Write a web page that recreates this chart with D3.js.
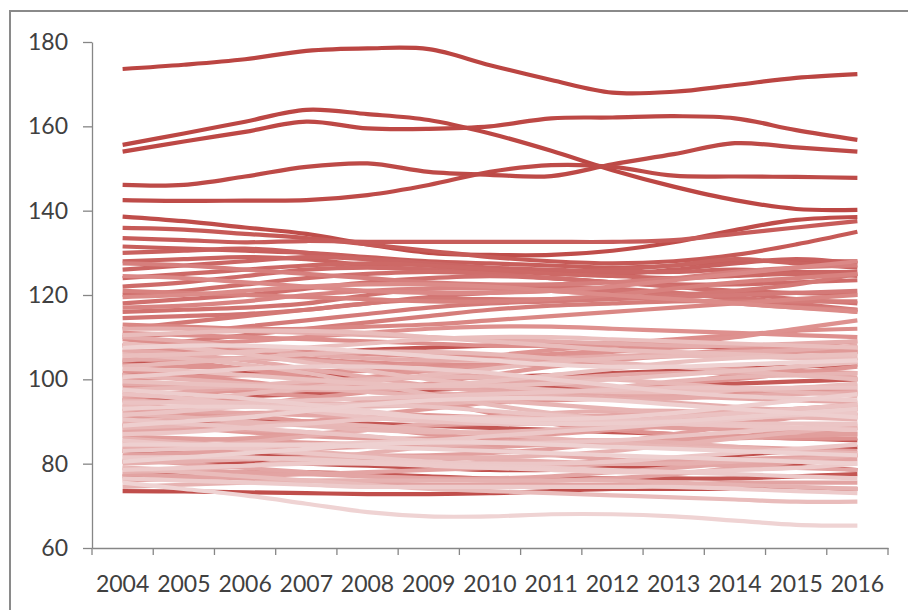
<!DOCTYPE html>
<html>
<head>
<meta charset="utf-8">
<script src="https://cdn.jsdelivr.net/npm/d3@7"></script>
<style>
  body { margin: 0; background: #fff; }
  svg { display: block; }
</style>
</head>
<body>
<script>
const years = [2004, 2005, 2006, 2007, 2008, 2009, 2010, 2011, 2012, 2013, 2014, 2015, 2016];
const yTicks = [60, 80, 100, 120, 140, 160, 180];

// the few separated lines at the top
const topSeries = [
  [173.6, 174.6, 175.9, 177.9, 178.5, 178.3, 174.5, 171, 168, 168.2, 169.8, 171.5, 172.4],
  [155.6, 158.3, 161.1, 163.9, 162.9, 161.5, 158.3, 154.2, 149.6, 145.7, 142.5, 140.4, 140.2],
  [154, 156.4, 158.7, 161.1, 159.5, 159.4, 160, 161.9, 162.1, 162.4, 161.9, 159.1, 156.8],
  [146.1, 146.1, 148.1, 150.4, 151.2, 149.2, 148.5, 148.2, 151, 153.4, 156, 155, 154],
  [142.5, 142.3, 142.4, 142.5, 143.7, 146.1, 149.2, 150.8, 150.4, 148.3, 148.1, 148, 147.8],
  [138.6, 137.5, 136, 134.5, 132, 130, 129.5, 129.5, 130.5, 132.5, 135.4, 137.8, 138.5]
];

// darker lines sitting low, under the pale ones
const darkLowSeries = [
  [73.5, 73.4, 73.2, 73, 72.8, 72.8, 73, 73.5, 74, 74, 74, 74, 74],
  [80.5, 80.5, 80.3, 80, 79.5, 79, 78.5, 78.5, 79, 79.5, 80, 79.5, 78.5],
  [83, 82.5, 82, 81.5, 81, 80.5, 80, 80, 80.5, 81, 82, 83, 84],
  [101, 101.5, 101.5, 101, 100.5, 100.5, 100.5, 101, 101.5, 102, 102.5, 103, 103.5],
  [104, 104.5, 105, 106, 107, 107.5, 108, 108.5, 108.5, 108, 107.5, 107, 106.5],
  [77, 77.5, 78, 78, 77.5, 77, 76.5, 76.5, 76.5, 76.5, 76.5, 77, 77.5],
  [89, 89.5, 90, 90, 89.5, 89, 88.5, 88, 87.5, 87, 86.5, 86, 85.5],
  [95, 95.5, 96, 96.5, 97, 97.5, 98, 98, 98, 98.5, 99, 99.5, 100]
];

// the band between roughly 110 and 140
const upperSeries = [
  [135.9, 135.5, 134.5, 133.5, 132, 130.5, 129, 128, 127.5, 128, 129.5, 132, 135],
  [133.5, 133, 132.5, 132.8, 132.6, 132.6, 132.6, 132.6, 132.6, 133, 134.5, 136, 137.5],
  [131.5, 131, 130.5, 130, 129, 128, 127.5, 127, 126.5, 127, 128, 128, 128],
  [130, 130.5, 131, 130, 128.5, 127, 126, 125.5, 125, 126, 127.5, 128.5, 127.5],
  [128, 128.5, 129, 128.5, 127, 126, 125.5, 125.5, 126, 127, 128.5, 127.5, 126.5],
  [126, 127, 128, 129, 128.5, 127.5, 126.5, 126, 125.5, 125.5, 126, 125.5, 125.5],
  [124, 125, 126, 127, 127.5, 127, 126, 125, 124.5, 124, 124.5, 125, 124.5],
  [122, 123, 124.5, 126, 126.5, 126, 125, 124, 123, 122.5, 122.5, 123, 123.5],
  [120, 121, 122.5, 124, 125, 125.5, 125, 124, 123, 122, 121, 120.5, 120],
  [118, 119, 120, 121.5, 123, 124, 124.5, 124, 123, 122, 120.5, 119, 118],
  [116, 116.5, 117, 118, 120, 121.5, 122, 122, 121.5, 120.5, 119, 117.5, 116],
  [114.5, 115, 115.5, 116.5, 118, 119.5, 120.5, 121, 121, 120.5, 119.5, 118, 116.5],
  [112, 113.5, 115, 116.5, 118, 119, 119, 119, 119.5, 120, 121, 122.5, 125],
  [110, 111, 112.5, 114, 115.5, 117, 118, 118.5, 119, 119.5, 120, 120.5, 121],
  [108, 109, 110.5, 112, 113.5, 115, 116.5, 117.5, 118, 118.5, 118.5, 118.5, 118.5],
  [127.5, 127, 126, 125, 124, 123, 122.5, 122.5, 123, 124, 125.5, 126.5, 127],
  [121, 120.5, 120, 119.5, 119, 118.5, 118.5, 119, 120, 121.5, 123, 124, 125],
  [117, 117.5, 118.5, 120, 121, 121.5, 121.5, 121, 120, 119, 118, 117, 116.5],
  [113, 112.5, 112, 112, 112.5, 113, 114, 115, 116, 117, 118, 119, 120],
  [124.5, 124, 123, 122, 121, 120.5, 120.5, 121, 122, 123.5, 125, 126.5, 128],
  [119.5, 120, 121, 122, 122.5, 122.5, 122, 121, 120, 119, 118, 117, 116]
];

// the dense pale band below about 112
const lowerSeries = [
  [111, 110.5, 110, 109.5, 109, 108.5, 108, 108, 108.5, 109.5, 110.5, 111.5, 112],
  [109.5, 108, 106.5, 105, 104, 103.5, 103.5, 104, 105, 106, 107, 108, 109],
  [108, 108.5, 109, 110, 111, 112, 112.5, 112.5, 112, 111.5, 111, 110.5, 110],
  [106.5, 107, 107, 106.5, 106, 105.5, 105.5, 106, 107, 108.5, 110, 112, 114],
  [105, 104, 102.5, 100.5, 98, 95, 92, 89.5, 88, 87, 86.5, 86, 86],
  [103.5, 103, 102.5, 102, 102, 102.5, 103.5, 105, 106.5, 107.5, 108, 108, 107.5],
  [102, 101, 99.5, 98, 97, 96.5, 96.5, 97, 98, 99, 100, 101.5, 103],
  [100, 100.5, 101, 101.5, 102.5, 104, 105.5, 107, 108, 108.5, 108, 107, 106],
  [98.5, 98, 97, 96, 95, 94.5, 94.5, 95, 95.5, 96, 96.5, 97, 97.5],
  [97, 96, 95, 94.5, 94, 94, 94.5, 95.5, 97, 99, 101, 103, 105],
  [95.5, 96.5, 97.5, 99, 100.5, 102, 103, 103.5, 103.5, 103, 102.5, 102, 101.5],
  [94, 93, 91.5, 90, 88.5, 87, 86, 85.5, 85.5, 86, 86.5, 87.5, 88.5],
  [92.5, 93, 94, 95.5, 97, 99, 101, 103, 104.5, 105.5, 106, 106.5, 107],
  [91, 91.5, 92, 92, 92, 91.5, 91, 90.5, 90.5, 91, 92, 93, 94],
  [89.5, 88.5, 87.5, 86.5, 86, 86, 86.5, 87, 88, 89, 90, 91, 92],
  [88, 88.5, 89, 90, 91.5, 93, 94.5, 96, 97, 97.5, 97.5, 97, 96.5],
  [86.5, 86, 85.5, 85, 84.5, 84, 84, 84.5, 85, 85.5, 86, 86.5, 87],
  [85, 85.5, 86, 87, 88, 89, 89.5, 89.5, 89, 88.5, 88, 87.5, 87],
  [84, 83.5, 83, 82.5, 82, 82, 82.5, 83.5, 85, 87, 89, 91, 93],
  [82, 82.5, 83, 83.5, 84, 84.5, 85, 85, 85, 84.5, 84, 83.5, 83],
  [79, 78.5, 78, 77.5, 77, 76.5, 76, 76, 76.5, 77.5, 79, 80.5, 82],
  [77.5, 77, 76.5, 76, 75.5, 75, 75, 75, 75, 75, 75.5, 75.5, 75.5],
  [76, 76.5, 77, 77.5, 78, 78.5, 79, 79.5, 80, 80.5, 81, 81.5, 82],
  [81, 80, 79, 78, 77, 76.5, 76.5, 77, 78, 79, 80, 80.5, 81],
  [87.5, 88, 88, 87.5, 86.5, 85, 83.5, 82, 81, 80, 79.5, 79, 78.5],
  [93, 92.5, 92, 91.5, 91, 90.5, 90.5, 91, 91.5, 92, 92.5, 93, 93.5],
  [96, 97, 98, 98.5, 98.5, 98, 97.5, 97, 96.5, 96, 95.5, 95, 94.5],
  [99, 98.5, 98, 97.5, 97.5, 98, 99, 100, 101, 101.5, 101.5, 101, 100.5],
  [104.5, 105, 105, 104.5, 103.5, 102, 100.5, 99, 98, 97.5, 97.5, 98, 98.5],
  [107, 106, 104.5, 102.5, 100.5, 98.5, 97, 96, 95.5, 95.5, 96, 96.5, 97],
  [110, 109, 107.5, 106, 105, 104.5, 104.5, 105, 105.5, 106, 106.5, 107, 108],
  [112, 112, 111.5, 111, 110.5, 110, 109.5, 109, 108.5, 108, 108, 108.5, 109],
  [90, 90.5, 91.5, 93, 94.5, 95.5, 96, 96, 95.5, 94.5, 93.5, 92.5, 91.5],
  [83.5, 84, 85, 86.5, 88, 89.5, 91, 92, 92.5, 92.5, 92, 91.5, 91],
  [80, 80.5, 81, 81.5, 81.5, 81.5, 81, 80.5, 80, 80, 80.5, 81, 82],
  [78, 78.5, 79.5, 81, 82.5, 84, 85, 85.5, 85.5, 85, 84, 83, 82],
  [74.5, 75, 75.5, 76, 76, 76, 76, 76, 76, 75.5, 75, 74.5, 74],
  [86, 85, 84, 83, 82, 81.5, 81.5, 82, 83, 84.5, 86, 87.5, 89],
  [101, 100, 99, 98, 97, 96, 95, 94, 93, 92, 91.5, 91, 90.5],
  [95, 94.5, 94, 93.5, 93.5, 94, 95, 96.5, 98, 99.5, 100.5, 101, 101.5],
  [92, 91, 90, 89, 88, 87.5, 87.5, 88, 89, 90, 91, 92, 93],
  [88.5, 89, 89.5, 89.5, 89, 88, 87, 86, 85, 84, 83.5, 83, 82.5],
  [97.5, 98, 98.5, 99.5, 100, 100.5, 100.5, 100.5, 100, 99, 98, 97, 96],
  [103, 104, 105, 106, 106.5, 106.5, 106, 105, 104, 103, 102, 101, 100],
  [106, 105, 103.5, 101.5, 99, 96.5, 94, 92, 90.5, 89.5, 89, 88.5, 88],
  [93.5, 95, 96.5, 98, 99.5, 101, 102.5, 104, 105, 105.5, 105.5, 105, 104.5],
  [79, 78, 77, 76, 75, 74, 73.5, 73, 72.5, 72, 71.5, 71, 71],
  [110.5, 111, 111.5, 111.5, 111, 110, 109, 108, 107, 106.5, 106, 105.5, 105],
  [108.5, 107.5, 106, 104, 102, 100, 98.5, 97.5, 97, 97, 97.5, 98, 99],
  [105.5, 106, 106.5, 107.5, 108.5, 109.5, 110, 110, 109.5, 109, 108.5, 108, 107.5],
  [102.5, 102, 101, 100, 99, 98.5, 98.5, 99, 100, 101, 102, 103, 104],
  [99.5, 99, 98.5, 98, 98, 98.5, 99.5, 101, 102.5, 104, 105, 105.5, 106],
  [96.5, 95.5, 94, 92.5, 91, 90, 89.5, 89.5, 90, 91, 92, 93, 94],
  [94.5, 94.5, 94.5, 95, 95.5, 96, 96.5, 97, 97.5, 98, 98, 98, 98],
  [91.5, 92.5, 93.5, 94, 94, 93.5, 92.5, 91.5, 90.5, 90, 89.5, 89.5, 89.5],
  [90.5, 89.5, 88.5, 87.5, 86.5, 85.5, 85, 85, 85.5, 86.5, 87.5, 88.5, 89.5],
  [87, 87.5, 88.5, 89.5, 90.5, 91, 91, 90.5, 90, 89.5, 89, 88.5, 88],
  [85.5, 84.5, 83.5, 82.5, 81.5, 80.5, 80, 80, 80.5, 81.5, 82.5, 83.5, 84.5],
  [83, 83.5, 84, 84.5, 85, 85.5, 86.5, 87.5, 88.5, 89.5, 90.5, 91.5, 92],
  [81.5, 81.5, 81.5, 81, 80.5, 80, 79.5, 79, 78.5, 78, 77.5, 77, 76.5],
  [78.5, 79, 79.5, 80, 80, 79.5, 79, 78.5, 78, 78, 78.5, 79, 80],
  [76.5, 76, 75.5, 75, 74.5, 74.5, 74.5, 74.5, 74.5, 74.5, 74, 73.5, 73],
  [100.5, 101.5, 102.5, 103, 103, 102.5, 101.5, 100, 98.5, 97, 96, 95.5, 95],
  [97.5, 96.5, 95.5, 94, 92.5, 91, 90, 89.5, 89.5, 90, 91, 92, 93],
  [93, 93.5, 93.5, 93, 92, 91, 90.5, 90.5, 91, 92, 93.5, 95, 96.5],
  [89, 90, 91, 92.5, 94, 95, 95.5, 95.5, 95, 94, 93, 92, 91],
  [84.5, 84.5, 84.5, 84.5, 84, 83.5, 83, 82.5, 82, 81.5, 81, 80.5, 80],
  [80.5, 81.5, 82.5, 83.5, 84.5, 85, 85, 84.5, 84, 83.5, 83, 82.5, 82],
  [107.5, 108, 108, 107.5, 106.5, 105.5, 104.5, 103.5, 103, 103, 103.5, 104, 104.5],
  [75.5, 74, 72.5, 70.5, 68.5, 67.5, 67.5, 68, 68, 67.5, 66.5, 65.5, 65.3]
];

const allSeries = topSeries.concat(darkLowSeries, upperSeries, lowerSeries);

const W = 908, H = 610;
const margin = {top: 42, right: 20, bottom: 62, left: 92};
const plotW = 888 - margin.left;
const plotH = 548 - margin.top;

const svg = d3.select("body").append("svg")
  .attr("width", W)
  .attr("height", H);

// chart frame (cropped on the right and bottom in the original)
svg.append("path")
  .attr("d", "M10,610 L10,11 L908,11")
  .attr("fill", "none")
  .attr("stroke", "#8a8a8a")
  .attr("stroke-width", 2);

const g = svg.append("g")
  .attr("transform", "translate(" + margin.left + "," + margin.top + ")");

const x = d3.scaleBand()
  .domain(years)
  .range([0, plotW])
  .padding(0);

const y = d3.scaleLinear()
  .domain([60, 180])
  .range([plotH, 0]);

const nTop = topSeries.length, nDark = darkLowSeries.length;
const color = d3.scaleLinear()
  .domain([0, nTop - 1, nTop + nDark, nTop + nDark + upperSeries.length, allSeries.length - 1])
  .range(["#bb4542", "#bf4d4a", "#c65a57", "#dd8e8c", "#efd3d3"])
  .interpolate(d3.interpolateRgb);

const line = d3.line()
  .x((d, i) => x(years[i]) + x.bandwidth() / 2)
  .y(d => y(d))
  .curve(d3.curveCatmullRom.alpha(0.5));

g.append("g")
  .selectAll("path")
  .data(allSeries)
  .enter().append("path")
  .attr("d", line)
  .attr("fill", "none")
  .attr("stroke", (d, i) => color(i))
  .attr("stroke-width", 4.2)
  .attr("stroke-linejoin", "round");

// y axis
const yAxis = g.append("g")
  .call(d3.axisLeft(y).tickValues(yTicks).tickSize(9).tickSizeOuter(0).tickPadding(15));
yAxis.select(".domain").attr("stroke", "#868686").attr("stroke-width", 1.3);
yAxis.selectAll(".tick line").attr("stroke", "#868686").attr("stroke-width", 1.3);
yAxis.selectAll("text")
  .attr("fill", "#404040")
  .style("font-family", "Lato, 'Open Sans', sans-serif")
  .style("font-size", "23px");

// x axis: labels centred in each category, ticks on category edges
const xAxis = g.append("g")
  .attr("transform", "translate(0," + plotH + ")")
  .call(d3.axisBottom(x).tickSize(0).tickPadding(28).tickSizeOuter(0));
xAxis.select(".domain").attr("stroke", "#868686").attr("stroke-width", 1.3);
xAxis.selectAll("text")
  .attr("fill", "#404040")
  .style("font-family", "Lato, 'Open Sans', sans-serif")
  .style("font-size", "23px");

const edges = years.map(d => x(d)).concat([x.range()[1]]);
xAxis.selectAll(".edge")
  .data(edges)
  .enter().append("line")
  .attr("class", "edge")
  .attr("x1", d => d)
  .attr("x2", d => d)
  .attr("y1", 0)
  .attr("y2", 7)
  .attr("stroke", "#868686")
  .attr("stroke-width", 1.3);
</script>
</body>
</html>
